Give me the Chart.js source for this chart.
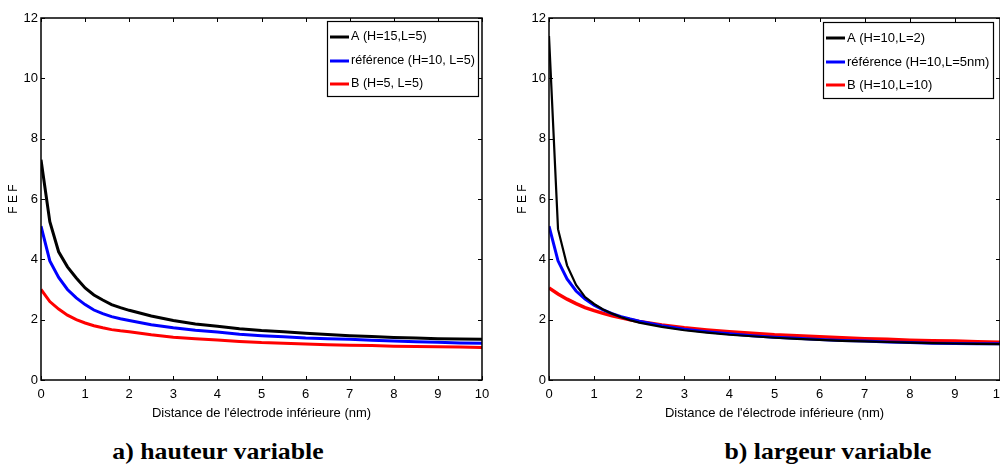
<!DOCTYPE html>
<html><head><meta charset="utf-8">
<script src="https://cdn.jsdelivr.net/npm/chart.js@4.4.0/dist/chart.umd.min.js"></script>
<style>
html,body{margin:0;padding:0;background:#fff;width:1000px;height:466px;overflow:hidden}
#c1{position:absolute;left:0;top:0}
#c2{position:absolute;left:500px;top:0}
.cap{position:absolute;top:438px;font:bold 23px 'Liberation Serif','Times New Roman',serif;color:#000;white-space:nowrap;transform:translateX(-50%) scaleX(1.12);line-height:28px}
</style></head><body>
<canvas id="c1" width="500" height="430"></canvas>
<canvas id="c2" width="500" height="430"></canvas>
<div class="cap" style="left:218px">a) hauteur variable</div>
<div class="cap" style="left:828px">b) largeur variable</div>
<script>
// ---- data ----
const distance = [0,0.2,0.4,0.6,0.8,1,1.2,1.4,1.6,1.8,2,2.5,3,3.5,4,4.5,5,5.5,6,6.5,7,7.5,8,8.5,9,9.5,10];
const xTickValues = [0,1,2,3,4,5,6,7,8,9,10];
const yTickValues = [0,2,4,6,8,10,12];

// a) hauteur variable
const aLabels = ['A (H=15,L=5)', 'référence (H=10, L=5)', 'B (H=5, L=5)'];
const aSerieA   = [7.3,5.25,4.25,3.75,3.38,3.05,2.82,2.65,2.5,2.4,2.31,2.12,1.97,1.86,1.78,1.7,1.64,1.6,1.55,1.51,1.47,1.44,1.41,1.39,1.37,1.36,1.35];
const aSerieRef = [5.1,3.95,3.4,3.0,2.72,2.5,2.32,2.2,2.1,2.03,1.97,1.83,1.73,1.65,1.59,1.52,1.47,1.43,1.39,1.37,1.35,1.32,1.29,1.27,1.25,1.23,1.22];
const aSerieB   = [3.0,2.6,2.35,2.15,2.0,1.89,1.8,1.73,1.67,1.63,1.6,1.5,1.42,1.37,1.33,1.28,1.24,1.22,1.19,1.17,1.15,1.14,1.12,1.11,1.1,1.09,1.08];

// b) largeur variable
const bLabels = ['A (H=10,L=2)', 'référence (H=10,L=5nm)', 'B (H=10,L=10)'];
const bSerieA   = [11.4,5.0,3.8,3.15,2.75,2.52,2.34,2.2,2.08,1.98,1.9,1.76,1.65,1.57,1.5,1.45,1.4,1.36,1.33,1.3,1.28,1.26,1.24,1.22,1.21,1.2,1.19];
const bSerieRef = [5.1,3.95,3.35,2.95,2.68,2.48,2.32,2.2,2.1,2.02,1.95,1.8,1.68,1.6,1.53,1.47,1.42,1.38,1.34,1.31,1.29,1.26,1.24,1.22,1.21,1.2,1.2];
const bSerieB   = [3.05,2.85,2.68,2.53,2.4,2.3,2.21,2.13,2.06,2.0,1.94,1.82,1.73,1.66,1.6,1.55,1.5,1.47,1.43,1.4,1.37,1.35,1.32,1.3,1.29,1.27,1.25];

const xTitle = "Distance de l'électrode inférieure (nm)";
const yTitle = 'F E F';
const colors = ['#000000', '#0000ff', '#ff0000'];

// ---- styling ----
const FONT = "'Liberation Sans',Arial,sans-serif";

const framePlugin = {
  id: 'frameTicks',
  afterDraw(chart, args, opts) {
    const ctx = chart.ctx, a = chart.chartArea;
    const xs = chart.scales.x, ys = chart.scales.y;
    ctx.save();
    ctx.strokeStyle = '#000';
    ctx.lineWidth = 1;
    ctx.beginPath();
    xs.ticks.forEach(t => {
      const px = Math.round(xs.getPixelForValue(t.value)) + 0.5;
      ctx.moveTo(px, a.bottom); ctx.lineTo(px, a.bottom - 4);
      ctx.moveTo(px, a.top); ctx.lineTo(px, a.top + 4);
    });
    ys.ticks.forEach(t => {
      const py = Math.round(ys.getPixelForValue(t.value)) + 0.5;
      ctx.moveTo(a.left, py); ctx.lineTo(a.left + 4, py);
      ctx.moveTo(a.right, py); ctx.lineTo(a.right - 4, py);
    });
    ctx.stroke();
    ctx.lineWidth = 1.5;
    ctx.strokeRect(a.left, a.top, a.right - a.left, a.bottom - a.top);
    // legend box
    const L = opts.box;
    if (L) {
      ctx.fillStyle = '#fff';
      ctx.fillRect(L.x, L.y, L.w, L.h);
      ctx.lineWidth = 1.2;
      ctx.strokeStyle = '#000';
      ctx.strokeRect(L.x + 0.5, L.y + 0.5, L.w, L.h);
      ctx.font = opts.font;
      ctx.textBaseline = 'middle';
      ctx.textAlign = 'left';
      chart.data.datasets.forEach((ds, i) => {
        const yy = L.y + L.rows[i];
        ctx.strokeStyle = ds.borderColor;
        ctx.lineWidth = 3;
        ctx.beginPath();
        ctx.moveTo(L.x + 3, yy); ctx.lineTo(L.x + 22, yy);
        ctx.stroke();
        ctx.fillStyle = '#000';
        ctx.fillText(ds.label, L.x + 24, yy);
      });
    }
    ctx.restore();
  }
};

function makeChart(id, labels, series, widths, yAxisWidth, yTitlePad, legendBox) {
  const datasets = series.map((s, i) => ({
    label: labels[i],
    data: distance.map((d, k) => ({x: d, y: s[k]})),
    borderColor: colors[i],
    backgroundColor: colors[i],
    borderWidth: widths[i],
    pointRadius: 0,
    tension: 0,
    fill: false
  }));
  return new Chart(document.getElementById(id), {
    type: 'line',
    data: { datasets },
    plugins: [framePlugin],
    options: {
      responsive: false,
      animation: false,
      events: [],
      layout: { padding: { top: 18, right: 500 - legendBox.plotRight, left: 0, bottom: 0 } },
      plugins: {
        legend: { display: false },
        tooltip: { enabled: false },
        frameTicks: { box: legendBox.box, font: legendBox.font + 'px ' + FONT }
      },
      scales: {
        x: {
          type: 'linear', min: 0, max: 10,
          afterBuildTicks: s => { s.ticks = xTickValues.map(v => ({value: v})); },
          afterFit: s => { s.height = 50; s.paddingLeft = 0; s.paddingRight = 0; },
          grid: { display: false, drawTicks: false },
          border: { display: false },
          ticks: { color: '#000', font: { family: FONT, size: 13 }, padding: 7, maxRotation: 0, autoSkip: false },
          title: { display: true, text: xTitle, color: '#000', font: { family: FONT, size: 13 }, padding: { top: 0, bottom: 9 } }
        },
        y: {
          type: 'linear', min: 0, max: 12,
          afterBuildTicks: s => { s.ticks = yTickValues.map(v => ({value: v})); },
          afterFit: s => { s.width = yAxisWidth; s.paddingTop = 0; s.paddingBottom = 0; },
          grid: { display: false, drawTicks: false },
          border: { display: false },
          ticks: { color: '#000', font: { family: FONT, size: 13 }, padding: 3, autoSkip: false },
          title: { display: true, text: yTitle, color: '#000', font: { family: FONT, size: 12 }, padding: { top: yTitlePad, bottom: 0 } }
        }
      }
    }
  });
}

makeChart('c1', aLabels, [aSerieA, aSerieRef, aSerieB], [3, 3, 3], 41, 6,
  { plotRight: 482, font: 12.6, box: { x: 327, y: 21, w: 151, h: 75, rows: [16, 40, 63] } });
makeChart('c2', bLabels, [bSerieA, bSerieRef, bSerieB], [2.2, 3, 3.5], 49, 15,
  { plotRight: 995, font: 13, box: { x: 323, y: 22, w: 170, h: 76, rows: [16, 40, 63] } });
</script>
</body></html>
